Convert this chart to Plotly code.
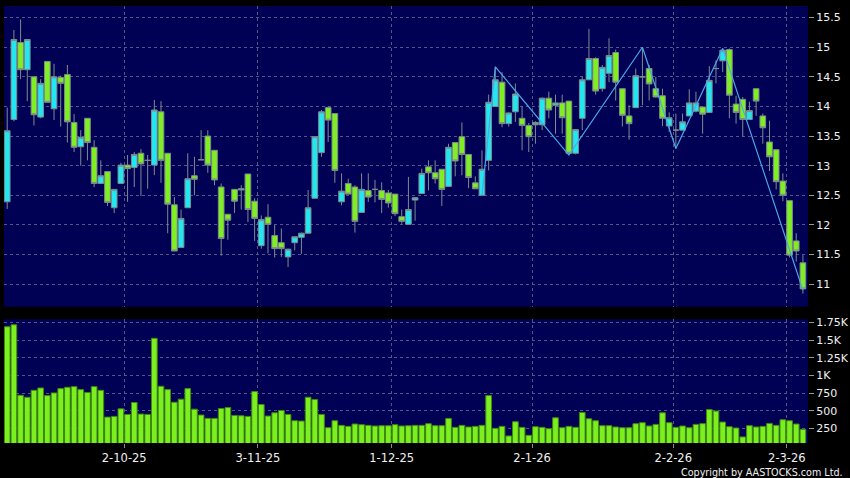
import plotly.graph_objects as go

# ---------------- data ----------------
opens = [12.39, 13.78, 15.08, 14.62, 14.50, 13.82, 14.76, 13.96, 14.49, 14.54,
         13.73, 13.32, 13.80, 13.31, 12.70, 12.90, 12.29, 12.70, 13.01, 12.97,
         13.21, 13.09, 13.01, 13.91, 13.21, 12.34, 11.62, 12.29, 12.83, 13.10,
         13.50, 13.26, 12.64, 12.18, 12.60, 12.59, 12.86, 12.40, 11.65, 12.13,
         11.82, 11.70, 11.46, 11.70, 11.79, 11.86, 12.45, 13.22, 13.98, 13.88,
         12.39, 12.70, 12.64, 12.21, 12.58, 12.60, 12.58, 12.54, 12.52, 12.14,
         12.01, 12.42, 12.53, 12.98, 12.88, 12.94, 12.65, 13.39, 13.49, 13.19,
         12.71, 12.50, 13.09, 14.00, 14.41, 13.71, 13.91, 13.80, 13.68, 13.69,
         13.69, 14.14, 14.02, 14.06, 14.09, 13.21, 13.80, 14.45, 14.81, 14.30,
         14.56, 14.91, 14.30, 13.84, 13.98, 14.50, 14.64, 14.30, 14.18, 13.67,
         13.60, 13.60, 13.84, 13.92, 13.99, 13.90, 14.64, 14.77, 14.96, 14.04,
         14.12, 13.78, 14.30, 13.84, 13.40, 13.27, 12.74, 12.41, 11.73, 11.36]
highs = [13.98, 15.29, 15.47, 15.13, 14.50, 14.46, 14.76, 14.72, 14.52, 14.70,
         13.87, 13.60, 13.80, 13.43, 13.09, 12.90, 12.60, 13.05, 13.18, 13.23,
         13.28, 13.18, 14.11, 14.09, 13.21, 12.47, 12.26, 13.21, 13.15, 13.60,
         13.60, 13.26, 12.70, 12.18, 12.60, 12.67, 12.86, 12.45, 12.16, 12.35,
         12.00, 11.94, 11.60, 11.80, 11.87, 12.59, 13.50, 13.94, 14.00, 13.88,
         12.87, 12.78, 12.67, 12.87, 12.87, 12.76, 12.72, 12.59, 12.52, 12.26,
         12.81, 12.47, 12.95, 13.09, 13.09, 12.94, 13.37, 13.39, 13.73, 13.19,
         12.82, 13.26, 14.20, 14.67, 14.58, 13.90, 14.39, 14.00, 13.72, 13.75,
         14.15, 14.25, 14.20, 14.20, 14.09, 13.62, 14.50, 15.31, 14.83, 14.70,
         15.15, 14.96, 14.30, 14.02, 14.64, 15.00, 14.70, 14.50, 14.30, 13.90,
         13.88, 13.88, 14.29, 14.25, 14.00, 14.68, 14.78, 14.98, 14.98, 14.18,
         14.16, 14.08, 14.30, 13.88, 13.76, 13.27, 12.87, 12.41, 11.86, 11.49]
lows = [12.27, 13.75, 14.46, 14.09, 13.68, 13.80, 14.07, 13.77, 13.66, 13.39,
        13.23, 13.00, 13.09, 12.64, 12.70, 12.32, 12.20, 12.70, 12.39, 12.64,
        12.49, 12.61, 12.84, 12.71, 11.86, 11.56, 11.62, 12.29, 12.50, 13.10,
        12.88, 12.67, 11.48, 11.75, 12.20, 12.26, 12.05, 11.73, 11.60, 11.52,
        11.45, 11.46, 11.29, 11.57, 11.51, 11.86, 12.45, 13.15, 13.40, 12.71,
        12.33, 12.52, 11.87, 12.21, 12.39, 12.38, 12.20, 12.29, 12.15, 12.02,
        12.00, 12.07, 12.53, 12.58, 12.70, 12.32, 12.65, 12.82, 12.84, 12.62,
        12.61, 12.50, 12.92, 13.99, 13.65, 13.66, 13.74, 13.26, 13.23, 13.37,
        13.60, 13.80, 13.54, 13.54, 13.18, 13.19, 13.60, 14.45, 14.20, 14.25,
        14.41, 14.10, 13.66, 13.44, 13.98, 14.02, 14.10, 14.15, 13.67, 13.57,
        13.29, 13.60, 13.84, 13.90, 13.54, 13.90, 14.39, 14.58, 13.80, 13.71,
        13.49, 13.78, 13.84, 13.37, 12.91, 12.60, 12.40, 11.45, 11.38, 10.84]
closes = [13.59, 15.13, 14.62, 15.13, 13.86, 14.39, 14.07, 14.50, 14.39, 13.74,
          13.31, 13.48, 13.39, 12.70, 12.83, 12.38, 12.60, 13.01, 12.95, 13.19,
          13.03, 13.09, 13.94, 13.09, 12.35, 11.56, 12.11, 12.78, 12.77, 13.10,
          13.01, 12.76, 11.77, 12.08, 12.40, 12.61, 12.26, 12.11, 12.09, 12.01,
          11.60, 11.60, 11.59, 11.80, 11.86, 12.29, 13.49, 13.91, 13.77, 12.92,
          12.57, 12.52, 12.06, 12.60, 12.47, 12.60, 12.43, 12.37, 12.19, 12.06,
          12.26, 12.46, 12.87, 12.88, 12.78, 12.60, 13.31, 13.08, 13.19, 12.80,
          12.61, 12.94, 14.07, 14.45, 13.71, 13.89, 14.21, 13.68, 13.49, 13.73,
          14.14, 13.94, 14.06, 13.81, 13.21, 13.61, 14.45, 14.81, 14.26, 14.66,
          14.86, 14.41, 13.85, 13.71, 14.52, 14.50, 14.38, 14.16, 13.80, 13.81,
          13.60, 13.74, 14.06, 14.06, 13.87, 14.44, 14.64, 14.95, 14.19, 13.90,
          13.78, 13.93, 14.09, 13.64, 13.15, 12.73, 12.50, 11.49, 11.56, 10.92]
volumes = [1690, 1718, 719, 691, 789, 822, 714, 752, 813, 832,
           841, 799, 757, 841, 789, 409, 419, 527, 447, 616,
           452, 447, 1526, 846, 799, 620, 663, 813, 522, 438,
           391, 391, 531, 545, 433, 428, 419, 771, 588, 424,
           470, 503, 447, 358, 353, 691, 658, 447, 259, 358,
           292, 278, 311, 302, 292, 283, 287, 287, 302, 283,
           287, 292, 292, 316, 288, 288, 391, 264, 292, 269,
           278, 292, 714, 250, 278, 142, 344, 264, 151, 273,
           264, 245, 400, 259, 278, 264, 475, 386, 358, 288,
           288, 269, 259, 259, 316, 330, 283, 306, 470, 330,
           264, 283, 259, 306, 316, 517, 494, 339, 273, 255,
           128, 288, 269, 278, 320, 292, 372, 358, 311, 236]

# zigzag pivots (candle index, price)
zz_idx = [71, 73, 84, 95, 100, 107, 119]
zz_val = [12.50, 14.67, 13.18, 15.00, 13.29, 14.98, 10.90]

# x-axis date labels (positions in trading-day index)
date_tick_pos = [17.5, 37.5, 57.5, 78.5, 99.6, 116.6]
date_tick_text = ["2-10-25", "3-11-25", "1-12-25", "2-1-26", "2-2-26", "2-3-26"]

price_ticks = [11, 11.5, 12, 12.5, 13, 13.5, 14, 14.5, 15, 15.5]
price_tick_text = ["11", "11.5", "12", "12.5", "13", "13.5", "14", "14.5", "15", "15.5"]
vol_ticks = [250, 500, 750, 1000, 1250, 1500, 1750]
vol_tick_text = ["250", "500", "750", "1K", "1.25K", "1.5K", "1.75K"]

# ---------------- figure ----------------
idx = list(range(len(opens)))

FONT = "DejaVu Sans"
BG = "#000055"
GRID = "#55558a"
CYAN = "#22e6f0"
GREEN = "#7fee22"
EDGE = "#7d8c8c"

fig = go.Figure()

fig.add_trace(go.Candlestick(
    x=idx, open=opens, high=highs, low=lows, close=closes,
    increasing=dict(fillcolor=CYAN, line=dict(color=EDGE, width=1)),
    decreasing=dict(fillcolor=GREEN, line=dict(color=EDGE, width=1)),
    whiskerwidth=0, xaxis="x", yaxis="y", showlegend=False, hoverinfo="skip",
))

fig.add_trace(go.Scatter(
    x=zz_idx, y=zz_val, mode="lines",
    line=dict(color="#4aa8ea", width=1.2),
    xaxis="x", yaxis="y", showlegend=False, hoverinfo="skip",
))

fig.add_trace(go.Bar(
    x=idx, y=volumes, marker=dict(color="#7cf01e", line=dict(color="#3f8a10", width=1)),
    xaxis="x2", yaxis="y2", showlegend=False, hoverinfo="skip",
))

xr = [-0.48, 119.76]
common_x = dict(range=xr, tickvals=date_tick_pos, ticktext=date_tick_text,
                showgrid=True, gridcolor=GRID, griddash="3px,3px", gridwidth=1,
                zeroline=False, showline=False, automargin=False)

fig.update_layout(
    width=850, height=478,
    margin=dict(l=4, r=42, t=6, b=35, autoexpand=False),
    paper_bgcolor="black", plot_bgcolor=BG,
    font=dict(family=FONT, color="#e8e8e8", size=11),
    bargap=0.15, boxgap=0.15, boxgroupgap=0,
    xaxis=dict(domain=[0, 1], anchor="y", showticklabels=False, ticks="",
               rangeslider=dict(visible=False), **common_x),
    xaxis2=dict(domain=[0, 1], anchor="y2", matches="x", showticklabels=True,
                ticks="outside", ticklen=4, tickcolor="#8a8a8a",
                tickfont=dict(size=11.5, color="#f0f0f0", family=FONT), **common_x),
    yaxis=dict(domain=[0.312, 1], anchor="x", side="right", range=[10.62, 15.696],
               tickvals=price_ticks, ticktext=price_tick_text,
               showgrid=True, gridcolor=GRID, griddash="3px,3px", gridwidth=1,
               zeroline=False, showline=False, ticks="outside", ticklen=5,
               tickcolor="#9a9a9a", tickfont=dict(size=11, color="#f0f0f0"),
               automargin=False),
    yaxis2=dict(domain=[0, 0.283], anchor="x2", side="right", range=[42, 1795],
                tickvals=vol_ticks, ticktext=vol_tick_text,
                showgrid=True, gridcolor=GRID, griddash="3px,3px", gridwidth=1,
                zeroline=False, showline=False, ticks="outside", ticklen=5,
                tickcolor="#9a9a9a", tickfont=dict(size=11, color="#f0f0f0"),
                automargin=False),
    annotations=[dict(text="Copyright by AASTOCKS.com Ltd.", xref="paper", yref="paper",
                      x=1.046, y=-0.068, xanchor="right", yanchor="middle",
                      showarrow=False, font=dict(size=9.6, color="#f0f0f0", family=FONT))],
)

fig.write_html("out.html", config={"displayModeBar": False, "staticPlot": True},
               post_script="document.body.style.margin='0';document.body.style.background='black';")
